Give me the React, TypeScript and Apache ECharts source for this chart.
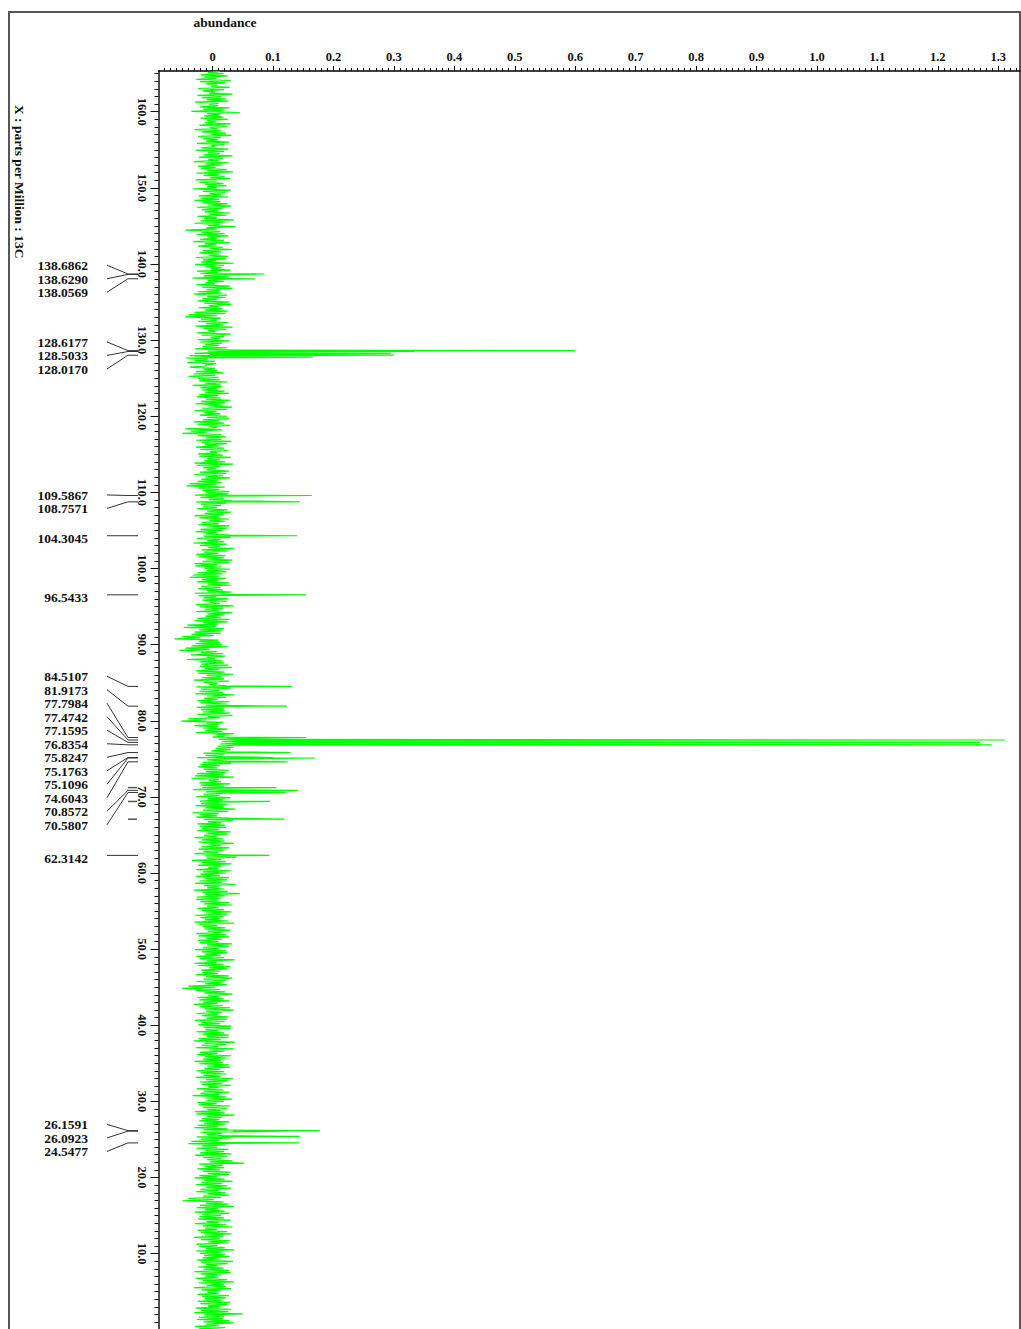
import React, { useEffect, useRef } from 'react';
import * as echarts from 'echarts';

// ---- DATA ----
// Baseline noise read band-by-band from the picture (abundance x 1000).
// NOISE_RIGHT: right-hand excursions at 165.3 - 0.3*i ppm;
// NOISE_LEFT: left-hand excursions at the half steps 165.15 - 0.3*i ppm.
const NOISE_START_PPM = 165.3;
const NOISE_STEP_PPM = 0.3;
const NOISE_RIGHT = [
  12, 18, 25, 6, 30, 22, 8, 28, 19, 4, 33, 15, 22, 26, 10, 9, 28, 20, 45, 12,
  18, 25, 6, 30, 24, 8, 15, 22, 31, 14, 9, 27, 20, 5, 26, 19, 12, 33, 17, 10,
  27, 16, 5, 24, 34, 11, 20, 29, 8, 18, 23, 7, 30, 21, 14, 26, 11, 13, 25, 31,
  16, 9, 29, 23, 7, 35, 21, 12, 38, 8, 13, 20, 26, 8, 19, 28, 6, 17, 32, 14,
  10, 26, 22, 6, 35, 19, 15, 30, 9, 11, 27, 24, 18, 4, 29, 33, 12, 15, 24, 21,
  8, 28, 31, 10, 17, 25, 21, 8, 14, 7, 26, 18, 33, 22, 5, 30, 19, 12, 28, 16,
  11, 24, 36, 9, -5, 2, -8, 4, 6, -10, 4, 8, 18, 5, 10, 12, 25, 13, 15, 8,
  20, 27, 9, 14, 30, 21, 16, 32, 24, 6, 13, 25, 27, 11, 19, 29, 8, 16, -10, 14,
  22, 15, 31, 24, 10, 19, 26, 8, 17, 30, 12, 21, 34, 13, 6, 27, 23, 17, 29, 9,
  15, 6, 20, 11, 28, 26, 9, 18, 32, 22, 14, 7, 25, 31, 18, 12, 27, 20, 11, 28,
  24, 16, 7, 29, 30, 13, 19, 24, 12, 35, 26, 10, 21, 19, 33, 27, 8, 15, 29, 23,
  16, 12, 22, 9, 27, 30, 13, 17, 31, 21, 6, 26, 24, 12, 35, 18, 10, 33, 20, 14,
  28, 25, 9, 5, 18, 14, 14, 2, -20, 10, 12, 15, 25, -5, 7, 18, 21, 4, 16, 19,
  26, 32, 11, 20, 34, 15, 19, 27, 8, 23, 30, 11, 17, 36, 22, 8, 28, 24, 13, 18,
  21, 29, 33, 12, -10, 18, 10, 9, 25, 16, 35, 20, 40, 42, 45, 38, 35, 30, 28, 20,
  15, 20, 24, 31, 12, 8, 27, 22, 18, 35, 10, 14, 29, 19, 6, 26, 22, 12, 30, 17,
  13, 24, 19, 38, 26, 10, 8, 29, 33, 15, 21, 23, 11, 30, 25, 7, 17, 20, 35, 13,
  28, 18, 9, 26, 40, 14, 22, 31, 15, 9, 30, 22, 12, 27, 24, 16, 38, 11, 19, 25,
  45, 20, 14, 8, 27, 33, 10, 19, 31, 24, 17, 12, 26, 36, 8, 21, 29, 15, 22, 28,
  16, 10, 32, 27, 11, 22, 25, 14, 19, 37, 7, 18, 30, 25, 13, 9, 27, 32, 21, 16,
  24, 5, 12, 21, 33, 11, 18, 28, 9, 17, 29, 35, 15, 8, 26, 24, 20, 13, 31, 30,
  10, 19, 27, 26, 14, 37, 22, 9, 35, 20, 8, 31, 23, 14, 17, 27, 29, 12, 19, 23,
  13, 34, 25, 16, 30, 10, 18, 28, 11, 22, 32, 18, 7, 29, 24, 13, 20, 36, 15, 11,
  28, 21, 9, 25, 34, 15, 17, 30, 12, 8, 22, 8, 26, 19, 31, 24, 14, 33, 52, 17,
  19, 12, 29, 27, 8, 20, 33, 16, 24, 31, 11, 22, 27, 14, 2, 18, 26, 35, 9, 20,
  28, 14, 19, 30, 11, 23, 33, 7, 24, 31, 17, 12, 29, 26, 8, 20, 36, 16, 21, 28,
  13, 34, 25, 9, 18, 27, 30, 15, 10, 24, 35, 19, 22, 31, 14, 11, 27, 22, 16, 29,
  24, 13, 31, 26, 50, 19, 17, 28, 35, 11, 21, 33, 9, 20, 30, 15, 24, 26, 12, 18,
];
const NOISE_LEFT = [
  -8, -20, -14, -27, -21, -11, -3, -24, -17, -6, -25, -18, -10, -29, -6, -21, -16, -35, -9, -14,
  -20, -9, -13, -22, -5, -30, -18, -4, -24, -16, -11, -26, -2, -19, -28, -8, -15, -23, -7, -31,
  -12, -24, -19, -10, -27, -15, -4, -28, -22, -12, -9, -33, -16, -5, -23, -20, -30, -17, -8, -26,
  -18, -13, -6, -25, -14, -20, -30, -7, -11, -45, -18, -26, -9, -21, -32, -13, -24, -5, -16, -22,
  -7, -28, -16, -19, -29, -12, -4, -26, -20, -15, -33, -8, -12, -27, -18, -10, -24, -31, -9, -17,
  -25, -14, -6, -23, -13, -30, -40, -45, -19, -24, -11, -28, -15, -7, -26, -18, -3, -25, -21, -12,
  -17, -29, -8, -30, -38, -44, -30, -42, -12, -38, -15, -28, -32, -40, -24, -22, -12, -33, -20, -18,
  -13, -22, -26, -11, -19, -28, -7, -17, -30, -14, -21, -9, -16, -31, -25, -6, -45, -36, -50, -24,
  -11, -27, -18, -13, -28, -20, -5, -24, -22, -9, -14, -30, -26, -16, -10, -21, -31, -12, -19, -25,
  -38, -43, -23, -17, -12, -29, -20, -6, -27, -19, -15, -26, -9, -13, -30, -22, -6, -18, -24, -10,
  -20, -28, -11, -15, -26, -9, -32, -21, -7, -18, -14, -27, -23, -11, -17, -30, -29, -14, -9, -24,
  -33, -38, -18, -26, -8, -19, -24, -10, -30, -23, -15, -17, -5, -28, -21, -13, -27, -9, -12, -25,
  -30, -16, -42, -48, -22, -30, -35, -50, -63, -22, -28, -35, -45, -55, -19, -36, -10, -42, -22, -19,
  -21, -13, -28, -24, -10, -18, -31, -15, -6, -27, -19, -22, -29, -9, -14, -25, -20, -11, -26, -19,
  -17, -25, -8, -40, -52, -10, -30, -16, -12, -28, 5, 0, 10, 15, 12, 8, 5, -2, -15, -12,
  -26, -9, -17, -20, -24, -15, -11, -26, -29, -35, -6, -22, -20, -17, -32, -11, -15, -27, -9, -21,
  -19, -28, -12, -16, -33, -22, -27, -14, -8, -25, -21, -18, -26, -10, -14, -30, -18, -23, -5, -19,
  -23, -15, -30, -12, -10, -34, -19, -24, -7, -27, -16, -20, -28, -13, -22, -29, -14, -9, -31, -17,
  -12, -26, -27, -20, -14, -9, -25, -18, -11, -29, -20, -13, -30, -22, -16, -14, -8, -27, -23, -11,
  -24, -21, -9, -16, -29, -18, -13, -27, -21, -10, -30, -24, -6, -19, -17, -28, -11, -15, -26, -12,
  -40, -50, -28, -14, -7, -25, -22, -16, -31, -21, -13, -11, -26, -18, -10, -29, -19, -24, -15, -12,
  -27, -17, -10, -23, -31, -14, -18, -28, -6, -21, -25, -13, -16, -30, -22, -9, -13, -26, -20, -15,
  -28, -11, -21, -18, -7, -26, -15, -20, -33, -12, -11, -25, -23, -16, -9, -29, -27, -10, -18, -22,
  -14, -24, -30, -15, -20, -10, -26, -19, -35, -40, -18, -27, -12, -21, -29, -16, -9, -5, -22, -13,
  -25, -17, -8, -22, -30, -14, -19, -28, -11, -20, -27, -9, -16, -40, -50, -11, -21, -26, -13, -30,
  -17, -22, -24, -10, -29, -16, -12, -25, -20, -13, -31, -19, -7, -27, -22, -11, -28, -21, -14, -17,
  -26, -19, -11, -24, -15, -30, -20, -12, -28, -16, -23, -10, -31, -18, -9, -25, -17, -13, -25, -20,
  -8, -28, -19, -30, -14, -23, -26, -15, -11, -29, -22, -14, -30, -17, -10, -26, -18, -20, -13, -24,
];

// Peaks (ppm, abundance)
const PEAK_PPM = [
  138.6862, 138.629, 138.0569, 128.6177, 128.5033, 128.25, 128.017, 127.76,
  109.5867, 108.7571, 104.3045, 96.5433, 84.5107, 81.9173, 77.7984, 77.4742,
  77.1595, 76.8354, 75.8247, 75.1763, 75.1096, 74.6043, 71.22, 70.8572,
  70.5807, 69.4, 67.07, 62.3142, 26.1591, 26.0923, 25.4, 24.5477,
];
const PEAK_HEIGHT = [
  0.086, 0.05, 0.07, 0.6, 0.335, 0.295, 0.3, 0.166,
  0.164, 0.144, 0.14, 0.155, 0.131, 0.123, 0.155, 1.311,
  1.27, 1.289, 0.129, 0.1, 0.17, 0.124, 0.106, 0.141,
  0.121, 0.095, 0.119, 0.094, 0.177, 0.12, 0.144, 0.144,
];

// Peak-pick labels
const LABEL_PPM = [
  138.6862, 138.629, 138.0569, 128.6177, 128.5033, 128.017, 109.5867, 108.7571,
  104.3045, 96.5433, 84.5107, 81.9173, 77.7984, 77.4742, 77.1595, 76.8354,
  75.8247, 75.1763, 75.1096, 74.6043, 70.8572, 70.5807, 62.3142, 26.1591,
  26.0923, 24.5477,
];
const LABEL_GROUP_SIZES = [3, 3, 2, 1, 1, 12, 1, 3];
const UNLABELED_MARK_PPM = [71.22, 69.4, 67.07];

// Axis ticks
const X_MAJOR_TICKS = [0, 0.1, 0.2, 0.3, 0.4, 0.5, 0.6, 0.7, 0.8, 0.9, 1.0, 1.1, 1.2, 1.3];
const Y_MAJOR_TICKS = [0, 10, 20, 30, 40, 50, 60, 70, 80, 90, 100, 110, 120, 130, 140, 150, 160];
const Y_LABEL_TICKS = [10, 20, 30, 40, 50, 60, 70, 80, 90, 100, 110, 120, 130, 140, 150, 160];

const X_MIN = -0.0895;
const X_MAX = 1.336;
const Y_MIN = -8;
const Y_MAX = 165.35;

const FONT = '"Liberation Serif", "Times New Roman", serif';

export default function App() {
  const ref = useRef<HTMLDivElement>(null);

  useEffect(() => {
    if (!ref.current) return;
    const chart = echarts.init(ref.current, null, { renderer: 'svg' });

    const pts: [number, number][] = [];
    NOISE_RIGHT.forEach((v, i) => {
      pts.push([v / 1000, +(NOISE_START_PPM - i * NOISE_STEP_PPM).toFixed(2)]);
    });
    NOISE_LEFT.forEach((v, i) => {
      pts.push([v / 1000, +(NOISE_START_PPM - NOISE_STEP_PPM / 2 - i * NOISE_STEP_PPM).toFixed(2)]);
    });
    PEAK_PPM.forEach((p, i) => pts.push([PEAK_HEIGHT[i], p]));
    pts.sort((a, b) => b[1] - a[1]);

    const xMinor: number[] = [];
    for (let k = -8; k <= 133; k++) xMinor.push(+(k / 100).toFixed(2));
    const yMinor: number[] = [];
    for (let k = -8; k <= 165; k++) yMinor.push(k);

    chart.setOption({
      animation: false,
      backgroundColor: '#ffffff',
      grid: { left: 158.5, top: 71, right: 1, bottom: 9.3, containLabel: false },
      xAxis: [
        {
          type: 'value',
          position: 'top',
          min: X_MIN,
          max: X_MAX,
          axisLine: { show: true, onZero: false, lineStyle: { color: '#000', width: 1.5 } },
          axisTick: { show: true, customValues: X_MAJOR_TICKS, length: 5, lineStyle: { color: '#000', width: 1 } },
          axisLabel: {
            show: true,
            customValues: X_MAJOR_TICKS,
            formatter: (v: number) => (Math.abs(v) < 1e-9 ? '0' : v.toFixed(1)),
            fontFamily: FONT,
            fontWeight: 'bold',
            fontSize: 12.5,
            color: '#111',
            margin: 8,
          },
          splitLine: { show: false },
        },
        {
          type: 'value',
          position: 'top',
          min: X_MIN,
          max: X_MAX,
          axisLine: { show: false, onZero: false },
          axisTick: { show: true, customValues: xMinor, length: 3, lineStyle: { color: '#000', width: 1 } },
          axisLabel: { show: false },
          splitLine: { show: false },
        },
      ],
      yAxis: [
        {
          type: 'value',
          position: 'left',
          min: Y_MIN,
          max: Y_MAX,
          axisLine: { show: true, onZero: false, lineStyle: { color: '#111', width: 1.5 } },
          axisTick: { show: true, customValues: Y_MAJOR_TICKS, length: 8, lineStyle: { color: '#111', width: 1 } },
          axisLabel: {
            show: true,
            customValues: Y_LABEL_TICKS,
            rotate: -90,
            formatter: (v: number) => v.toFixed(1),
            fontFamily: FONT,
            fontWeight: 'bold',
            fontSize: 12.5,
            color: '#111',
            margin: 10,
          },
          splitLine: { show: false },
        },
        {
          type: 'value',
          position: 'left',
          min: Y_MIN,
          max: Y_MAX,
          axisLine: { show: false, onZero: false },
          axisTick: { show: true, customValues: yMinor, length: 4, lineStyle: { color: '#111', width: 1 } },
          axisLabel: { show: false },
          splitLine: { show: false },
        },
      ],
      series: [
        {
          type: 'line',
          xAxisIndex: 0,
          yAxisIndex: 0,
          data: pts,
          showSymbol: false,
          symbol: 'none',
          clip: true,
          lineStyle: { color: '#00ff00', width: 1.2 },
          silent: true,
        },
      ],
    });

    const yPx = (p: number) => chart.convertToPixel({ yAxisIndex: 0 }, p) as number;

    const elements: any[] = [
      {
        type: 'rect',
        shape: { x: 9, y: 12, width: 1011, height: 1500 },
        style: { fill: 'none', stroke: '#555', lineWidth: 2 },
        silent: true,
        z: 0,
      },
      {
        type: 'text',
        x: 225,
        y: 22,
        style: { text: 'abundance', font: `bold 13.5px ${FONT}`, fill: '#111', align: 'center', verticalAlign: 'middle' },
      },
      {
        type: 'text',
        x: 19,
        y: 105,
        rotation: -Math.PI / 2,
        style: {
          text: 'X : parts per Million : 13C',
          font: `bold 13.5px ${FONT}`,
          fill: '#111',
          align: 'left',
          verticalAlign: 'middle',
        },
      },
    ];

    let idx = 0;
    for (const n of LABEL_GROUP_SIZES) {
      const ppms = LABEL_PPM.slice(idx, idx + n);
      const pys = ppms.map(yPx);
      const mean = pys.reduce((s, v) => s + v, 0) / n;
      const off = n > 1 ? 3 : 0;
      pys.forEach((py, k) => {
        const ly = mean + (k - (n - 1) / 2) * 13.5 + off;
        elements.push({
          type: 'polyline',
          shape: { points: [[107, ly], [128, py], [138, py]] },
          style: { stroke: '#333', lineWidth: 1, fill: 'none' },
          silent: true,
        });
        elements.push({
          type: 'text',
          x: 88,
          y: ly + (n > 1 ? 0.5 : 3),
          style: {
            text: ppms[k].toFixed(4),
            font: `bold 13.5px ${FONT}`,
            fill: '#111',
            align: 'right',
            verticalAlign: 'middle',
          },
        });
      });
      idx += n;
    }

    UNLABELED_MARK_PPM.forEach((p) => {
      const py = yPx(p);
      elements.push({
        type: 'line',
        shape: { x1: 128, y1: py, x2: 137, y2: py },
        style: { stroke: '#555', lineWidth: 1.5 },
        silent: true,
      });
    });

    chart.setOption({ graphic: elements });

    return () => chart.dispose();
  }, []);

  return (
    <div
      ref={ref}
      style={{ position: 'fixed', left: 0, top: 0, width: 1021, height: 1400, background: '#fff' }}
    />
  );
}
